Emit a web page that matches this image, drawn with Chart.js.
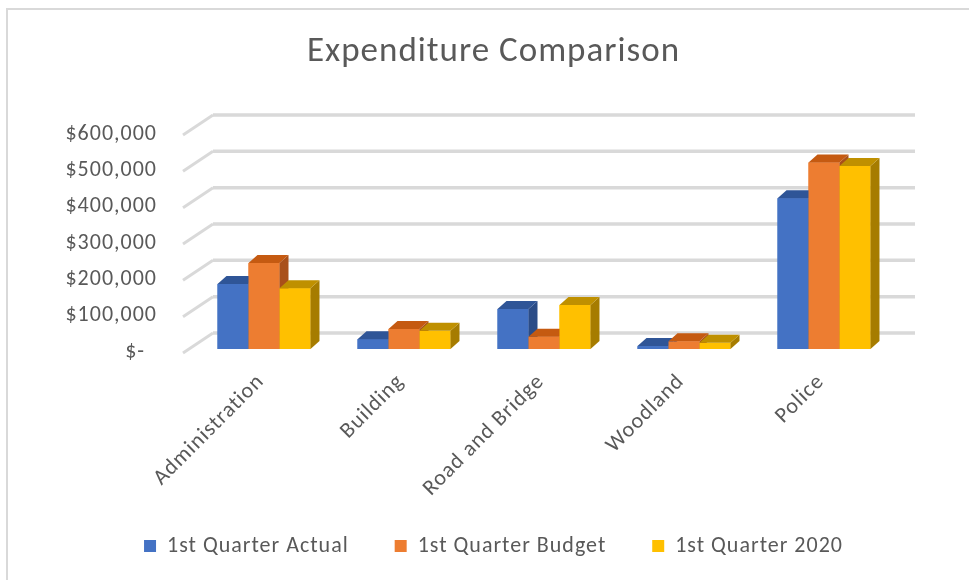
<!DOCTYPE html>
<html>
<head>
<meta charset="utf-8">
<script src="https://cdn.jsdelivr.net/npm/chart.js@4.4.1/dist/chart.umd.min.js"></script>
<style>
  body { margin: 0; overflow: hidden; background: #fff; }
  #wrap { position: relative; width: 969px; height: 580px; }
  #frame { position: absolute; left: 6px; top: 8px; width: 990px; height: 600px; border: 2px solid #d9d9d9; }
  #chart { position: absolute; left: 0; top: 0; }
</style>
</head>
<body>
<div id="wrap">
  <div id="frame"></div>
  <canvas id="chart" width="969" height="580"></canvas>
</div>
<script>
const categories = ['Administration', 'Building', 'Road and Bridge', 'Woodland', 'Police']
const actual = [179000, 27000, 110000, 8000, 415000]
const budget = [237000, 55000, 34000, 21000, 513000]
const q2020 = [167000, 50000, 121000, 17000, 504000]
const seriesNames = ['1st Quarter Actual', '1st Quarter Budget', '1st Quarter 2020']

const frontColors = ['#4472c4', '#ed7d31', '#ffc000']
const topColors = ['#2f5597', '#c55a11', '#bf9000']
const sideColors = ['#2b4c87', '#a9501a', '#a67c00']
const depth = { dx: 9, dy: -8 }
const fontFamily = 'Carlito, Lato, sans-serif'
const textColor = '#595959'

// canvas state is reset on resize, so set the spacing before layout and draw
const spacingPlugin = {
    id: 'spacing',
    beforeUpdate(chart) { chart.ctx.letterSpacing = '1px' },
    beforeLayout(chart) { chart.ctx.letterSpacing = '1px' },
    beforeDraw(chart) { chart.ctx.letterSpacing = '1px' }
}

// back wall + left wall lines, taken from the y scale ticks
const wallPlugin = {
    id: 'wall',
    beforeDatasetsDraw(chart) {
        const { ctx, chartArea } = chart
        const yScale = chart.scales.y
        ctx.save()
        ctx.strokeStyle = '#d9d9d9'
        for (const tick of yScale.ticks) {
            const y = yScale.getPixelForValue(tick.value)
            ctx.lineWidth = 3.5
            ctx.beginPath()
            ctx.moveTo(chartArea.left + 19, y - 16)
            ctx.lineTo(chartArea.right + 21, y - 16)
            ctx.stroke()
            ctx.lineWidth = 3
            ctx.beginPath()
            ctx.moveTo(chartArea.left - 11, y + 4)
            ctx.lineTo(chartArea.left + 19, y - 16)
            ctx.stroke()
        }
        ctx.restore()
    }
}

// fake 3d: redraw fronts in series order, each followed by its side and top face
const boxPlugin = {
    id: 'box3d',
    afterDatasetsDraw(chart) {
        const ctx = chart.ctx
        chart.data.datasets.forEach((ds, i) => {
            const meta = chart.getDatasetMeta(i)
            for (const el of meta.data) {
                el.draw(ctx)
                const { x, y, base, width } = el.getProps(['x', 'y', 'base', 'width'], true)
                const left = x - width / 2
                const right = x + width / 2
                ctx.save()
                ctx.fillStyle = sideColors[i]
                ctx.beginPath()
                ctx.moveTo(right, y)
                ctx.lineTo(right + depth.dx, y + depth.dy)
                ctx.lineTo(right + depth.dx, base + depth.dy)
                ctx.lineTo(right, base)
                ctx.closePath()
                ctx.fill()
                ctx.fillStyle = topColors[i]
                ctx.beginPath()
                ctx.moveTo(left, y)
                ctx.lineTo(left + depth.dx, y + depth.dy)
                ctx.lineTo(right + depth.dx, y + depth.dy)
                ctx.lineTo(right, y)
                ctx.closePath()
                ctx.fill()
                ctx.restore()
            }
        })
    }
}

const ctx = document.getElementById('chart').getContext('2d')
const myChart = new Chart(ctx, {
    type: 'bar',
    data: {
        labels: categories,
        datasets: [actual, budget, q2020].map((values, i) => ({
            label: seriesNames[i],
            data: values,
            backgroundColor: frontColors[i],
            borderWidth: 0,
            categoryPercentage: 0.664,
            barPercentage: 1
        }))
    },
    options: {
        responsive: false,
        animation: false,
        layout: { padding: { left: 18, right: 0, top: 0, bottom: 13 } },
        plugins: {
            title: {
                display: true,
                text: 'Expenditure Comparison',
                color: textColor,
                font: { family: fontFamily, size: 35, weight: 'normal' },
                padding: { top: 31, bottom: 58 }
            },
            legend: {
                position: 'bottom',
                labels: {
                    color: textColor,
                    font: { family: fontFamily, size: 22 },
                    boxWidth: 12,
                    boxHeight: 12,
                    padding: 34,
                    // a bit more room between items than the padding gives
                    generateLabels(chart) {
                        const items = Chart.defaults.plugins.legend.labels.generateLabels(chart)
                        items.forEach((it, i) => {
                            if (i < items.length - 1) it.text += '\u00a0\u00a0'
                        })
                        return items
                    }
                }
            },
            tooltip: { enabled: false }
        },
        scales: {
            x: {
                grid: { display: false },
                border: { display: false },
                ticks: {
                    color: textColor,
                    font: { family: fontFamily, size: 22 },
                    minRotation: 45,
                    maxRotation: 45,
                    autoSkip: false,
                    padding: 12,
                    labelOffset: -3
                },
                afterFit(scale) { scale.height = 152 }
            },
            y: {
                min: 0,
                max: 600000,
                grid: { display: false },
                border: { display: false },
                ticks: {
                    stepSize: 100000,
                    color: textColor,
                    font: { family: fontFamily, size: 22 },
                    padding: 29,
                    labelOffset: 3,
                    callback: (v) => v === 0 ? '$-  ' : '$' + v.toLocaleString('en-US')
                },
                afterFit(scale) { scale.width = 176 }
            },
            spacer: {
                type: 'linear',
                position: 'right',
                display: true,
                grid: { display: false },
                border: { display: false },
                ticks: { display: false },
                afterFit(scale) { scale.width = 75 }
            }
        }
    },
    plugins: [spacingPlugin, wallPlugin, boxPlugin]
});
</script>
</body>
</html>
